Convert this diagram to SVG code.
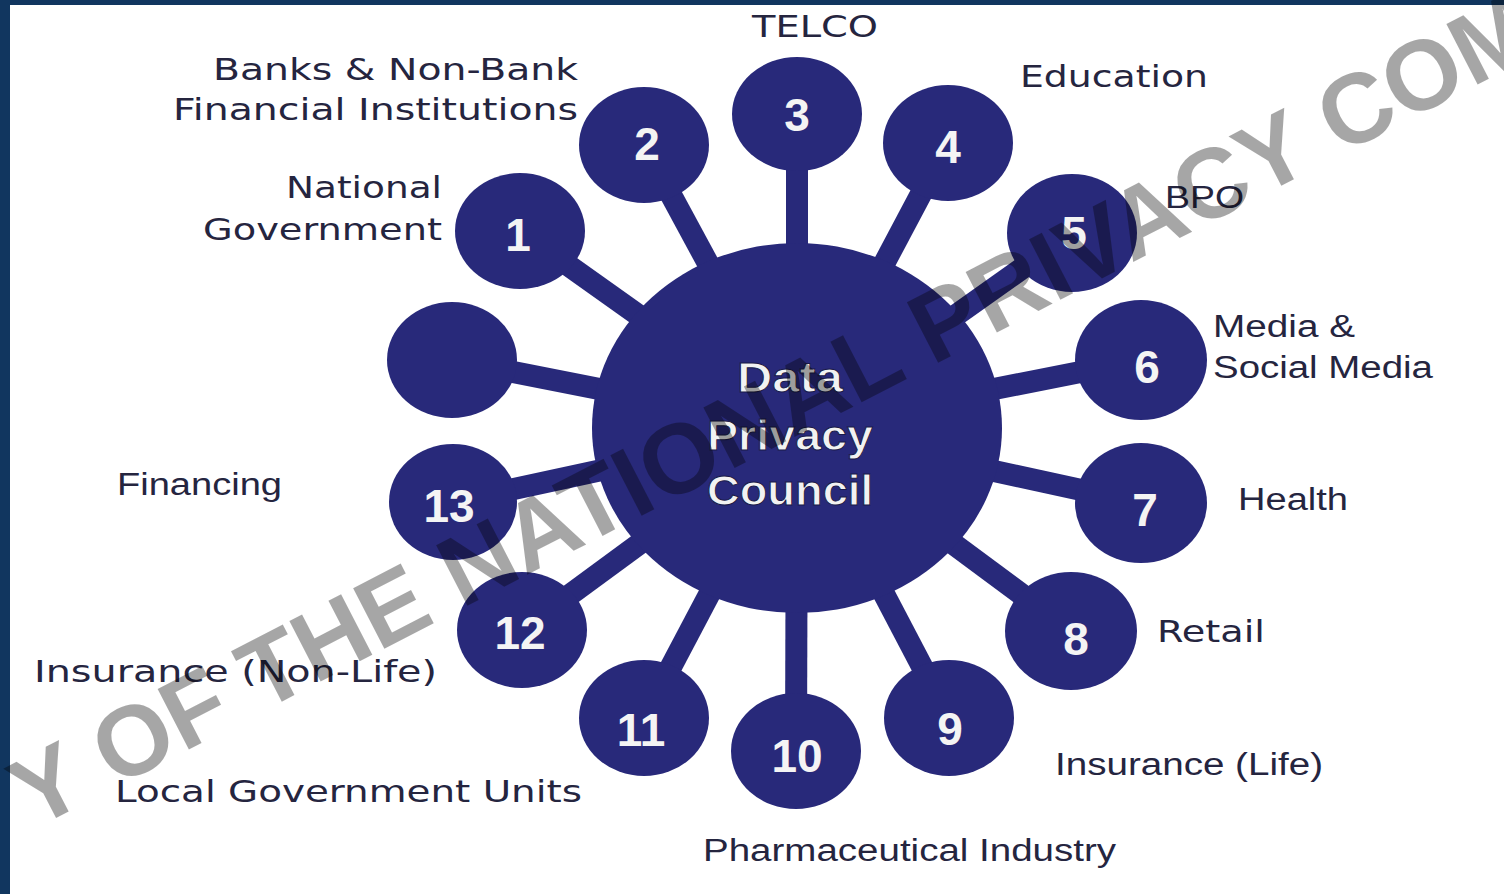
<svg xmlns="http://www.w3.org/2000/svg" width="1504" height="894" viewBox="0 0 1504 894">
<style>
.bg{fill:#ffffff}
.frame{fill:#11365f}
.hub{fill:#28297a}
.sat{fill:#28297a}
.spoke{stroke:#28297a;stroke-width:22;stroke-linecap:butt}
.num{font-family:"Liberation Sans",Arial,sans-serif;font-weight:bold;font-size:46px;fill:#f4f4f4;text-anchor:middle}
.lv{font-family:"DejaVu Sans",Verdana,sans-serif;font-size:30px;fill:#25253f}
.la{font-family:"Liberation Sans",Arial,sans-serif;font-size:31px;fill:#25253f}
.hubt{font-family:"Liberation Sans",Arial,sans-serif;font-weight:bold;font-size:42px;fill:#f2f2f2;stroke:#1a1a4a;stroke-width:1}
.wm{font-family:"Liberation Sans",Arial,sans-serif;font-weight:bold;font-size:99px;fill:#000000;fill-opacity:0.35}
</style>
<rect class="frame" x="0" y="0" width="1504" height="894"/>
<rect class="bg" x="10" y="5" width="1494" height="889"/>
<g id="connectors">
<line class="spoke" x1="797" y1="428" x2="520" y2="231"/>
<line class="spoke" x1="797" y1="428" x2="644" y2="145"/>
<line class="spoke" x1="797" y1="428" x2="797" y2="114"/>
<line class="spoke" x1="797" y1="428" x2="948" y2="143"/>
<line class="spoke" x1="797" y1="428" x2="1072" y2="233"/>
<line class="spoke" x1="797" y1="428" x2="1141" y2="360"/>
<line class="spoke" x1="797" y1="428" x2="1141" y2="503"/>
<line class="spoke" x1="797" y1="428" x2="1071" y2="631"/>
<line class="spoke" x1="797" y1="428" x2="949" y2="718"/>
<line class="spoke" x1="797" y1="428" x2="796" y2="751"/>
<line class="spoke" x1="797" y1="428" x2="644" y2="718"/>
<line class="spoke" x1="797" y1="428" x2="522" y2="630"/>
<line class="spoke" x1="797" y1="428" x2="453" y2="502"/>
<line class="spoke" x1="797" y1="428" x2="452" y2="360"/>
</g>
<g id="node-center">
<ellipse class="hub" cx="797" cy="428" rx="205" ry="185"/>
<text class="hubt" x="737" y="392" textLength="106" lengthAdjust="spacingAndGlyphs">Data</text>
<text class="hubt" x="707" y="450" textLength="166" lengthAdjust="spacingAndGlyphs">Privacy</text>
<text class="hubt" x="707" y="505" textLength="166" lengthAdjust="spacingAndGlyphs">Council</text>
</g>
<g id="node-1">
<ellipse class="sat" cx="520" cy="231" rx="65" ry="58"/>
<text class="num" x="518" y="251">1</text>
<text class="lv" x="286" y="198" textLength="156" lengthAdjust="spacingAndGlyphs">National</text>
<text class="lv" x="203" y="240" textLength="239" lengthAdjust="spacingAndGlyphs">Government</text>
</g>
<g id="node-2">
<ellipse class="sat" cx="644" cy="145" rx="65" ry="58"/>
<text class="num" x="647" y="160">2</text>
<text class="lv" x="213" y="80" textLength="365" lengthAdjust="spacingAndGlyphs">Banks &amp; Non-Bank</text>
<text class="lv" x="173" y="120" textLength="405" lengthAdjust="spacingAndGlyphs">Financial Institutions</text>
</g>
<g id="node-3">
<ellipse class="sat" cx="797" cy="114" rx="65" ry="57"/>
<text class="num" x="797" y="131">3</text>
<text class="lv" x="752" y="37" textLength="126" lengthAdjust="spacingAndGlyphs">TELCO</text>
</g>
<g id="node-4">
<ellipse class="sat" cx="948" cy="143" rx="65" ry="58"/>
<text class="num" x="948" y="163">4</text>
<text class="lv" x="1020" y="87" textLength="188" lengthAdjust="spacingAndGlyphs">Education</text>
</g>
<g id="node-5">
<ellipse class="sat" cx="1072" cy="233" rx="65" ry="59"/>
<text class="num" x="1074" y="249">5</text>
<text class="la" x="1165" y="208" textLength="79" lengthAdjust="spacingAndGlyphs">BPO</text>
</g>
<g id="node-6">
<ellipse class="sat" cx="1141" cy="360" rx="66" ry="60"/>
<text class="num" x="1147" y="383">6</text>
<text class="la" x="1213" y="337" textLength="142" lengthAdjust="spacingAndGlyphs">Media &amp;</text>
<text class="la" x="1213" y="378" textLength="220" lengthAdjust="spacingAndGlyphs">Social Media</text>
</g>
<g id="node-7">
<ellipse class="sat" cx="1141" cy="503" rx="66" ry="60"/>
<text class="num" x="1145" y="526">7</text>
<text class="la" x="1238" y="510" textLength="110" lengthAdjust="spacingAndGlyphs">Health</text>
</g>
<g id="node-8">
<ellipse class="sat" cx="1071" cy="631" rx="66" ry="59"/>
<text class="num" x="1076" y="655">8</text>
<text class="lv" x="1157" y="642" textLength="108" lengthAdjust="spacingAndGlyphs">Retail</text>
</g>
<g id="node-9">
<ellipse class="sat" cx="949" cy="718" rx="65" ry="58"/>
<text class="num" x="950" y="745">9</text>
<text class="la" x="1055" y="775" textLength="268" lengthAdjust="spacingAndGlyphs">Insurance (Life)</text>
</g>
<g id="node-10">
<ellipse class="sat" cx="796" cy="751" rx="65" ry="58"/>
<text class="num" x="797" y="772">10</text>
<text class="la" x="703" y="861" textLength="413" lengthAdjust="spacingAndGlyphs">Pharmaceutical Industry</text>
</g>
<g id="node-11">
<ellipse class="sat" cx="644" cy="718" rx="65" ry="58"/>
<text class="num" x="641" y="746">11</text>
<text class="lv" x="115" y="802" textLength="467" lengthAdjust="spacingAndGlyphs">Local Government Units</text>
</g>
<g id="node-12">
<ellipse class="sat" cx="522" cy="630" rx="65" ry="58"/>
<text class="num" x="520" y="649">12</text>
<text class="lv" x="34" y="682" textLength="403" lengthAdjust="spacingAndGlyphs">Insurance (Non-Life)</text>
</g>
<g id="node-13">
<ellipse class="sat" cx="453" cy="502" rx="64" ry="58"/>
<text class="num" x="449" y="522">13</text>
<text class="la" x="117" y="495" textLength="165" lengthAdjust="spacingAndGlyphs">Financing</text>
</g>
<g id="node-14">
<ellipse class="sat" cx="452" cy="360" rx="65" ry="58"/>
</g>
<g id="watermark">
<text class="wm" x="33" y="830" transform="rotate(-27.3 33 830)">Y OF THE NATIONAL PRIVACY COM</text>
</g>
</svg>
